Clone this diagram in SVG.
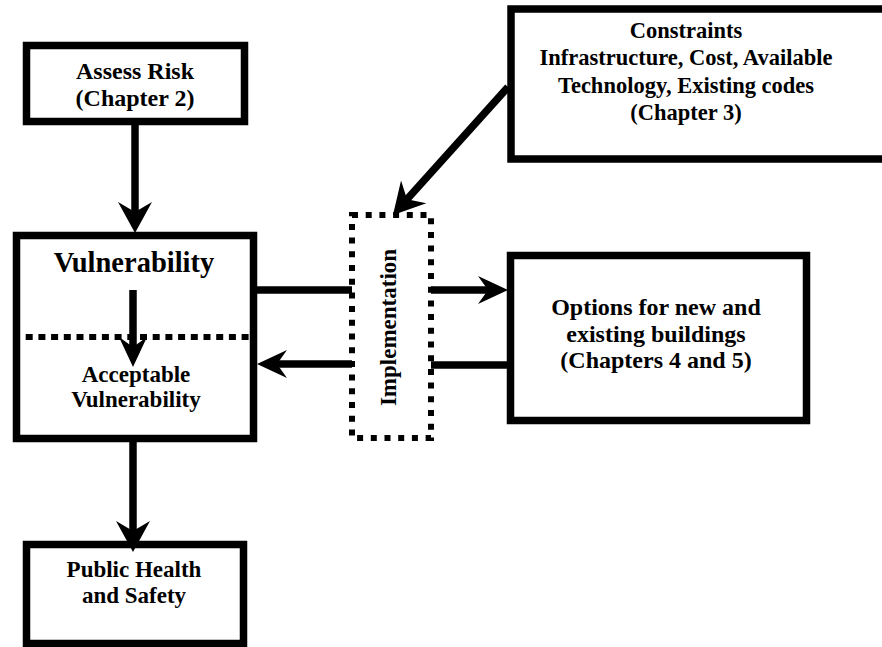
<svg xmlns="http://www.w3.org/2000/svg" width="882" height="647" viewBox="0 0 882 647">
<style>
  .box { fill: #fff; stroke: #000; stroke-width: 7.5; }
  .dot { fill: none; stroke: #000; stroke-width: 6; stroke-dasharray: 6 7.7; }
  .ln { fill: none; stroke: #000; stroke-width: 7.5; }
  text { font-family: "Liberation Serif", "Times New Roman", serif; font-weight: bold; font-size: 23px; fill: #000; text-anchor: middle; }
  .big { font-size: 28.5px; }
  .l { font-size: 24px; }
  .s { font-size: 22.5px; }
</style>
<defs>
  <marker id="ah" viewBox="-31 -18 32 36" refX="-15" refY="0" markerWidth="32" markerHeight="36" markerUnits="userSpaceOnUse" orient="auto">
    <path d="M0,0 L-31,-17 L-21,0 L-31,17 Z" fill="#000"/>
  </marker>
  <marker id="ahs" viewBox="-31 -16 32 32" refX="-15" refY="0" markerWidth="32" markerHeight="32" markerUnits="userSpaceOnUse" orient="auto">
    <path d="M0,0 L-30,-14 L-20,0 L-30,14 Z" fill="#000"/>
  </marker>
</defs>

<g id="assess-risk">
  <rect class="box" x="26.5" y="45.5" width="218" height="76"/>
  <text class="l" x="135" y="79">Assess Risk</text>
  <text class="l" x="135" y="106">(Chapter 2)</text>
</g>

<g id="vulnerability">
  <rect class="box" x="16.5" y="235.5" width="237" height="203"/>
  <line x1="13" y1="337" x2="253" y2="337" stroke="#000" stroke-width="6" stroke-dasharray="7 5.7"/>
  <text class="big" x="134" y="272">Vulnerability</text>
  <text x="136" y="382">Acceptable</text>
  <text x="136" y="407">Vulnerability</text>
</g>

<g id="implementation">
  <rect class="dot" x="352" y="215" width="79" height="223"/>
  <text transform="translate(396,327.5) rotate(-90)" x="0" y="0">Implementation</text>
</g>

<g id="constraints">
  <rect class="box" x="511" y="9" width="400" height="150"/>
  <text class="s" x="686" y="38">Constraints</text>
  <text class="s" x="686" y="65">Infrastructure, Cost, Available</text>
  <text class="s" x="686" y="93">Technology, Existing codes</text>
  <text class="s" x="686" y="120">(Chapter 3)</text>
</g>

<g id="options">
  <rect class="box" x="510.5" y="255.5" width="296" height="165"/>
  <text class="l" x="656" y="315">Options for new and</text>
  <text class="l" x="656" y="342">existing buildings</text>
  <text class="l" x="656" y="368">(Chapters 4 and 5)</text>
</g>

<g id="public-health">
  <rect class="box" x="26.5" y="544.5" width="217" height="99"/>
  <text x="134" y="577">Public Health</text>
  <text x="134" y="603">and Safety</text>
</g>

<g id="connectors">
  <line class="ln" x1="135" y1="125" x2="135" y2="218" marker-end="url(#ah)"/>
  <line class="ln" x1="133" y1="290" x2="133" y2="352" marker-end="url(#ahs)"/>
  <line class="ln" x1="257" y1="290" x2="352" y2="290"/>
  <line class="ln" x1="431" y1="290" x2="493" y2="290" marker-end="url(#ahs)"/>
  <line class="ln" x1="507" y1="365" x2="431" y2="365"/>
  <line class="ln" x1="352" y1="364" x2="272" y2="364" marker-end="url(#ahs)"/>
  <line class="ln" x1="508" y1="87" x2="403" y2="203.8" marker-end="url(#ah)"/>
  <line class="ln" x1="133" y1="442" x2="133" y2="537" marker-end="url(#ah)"/>
</g>
</svg>
